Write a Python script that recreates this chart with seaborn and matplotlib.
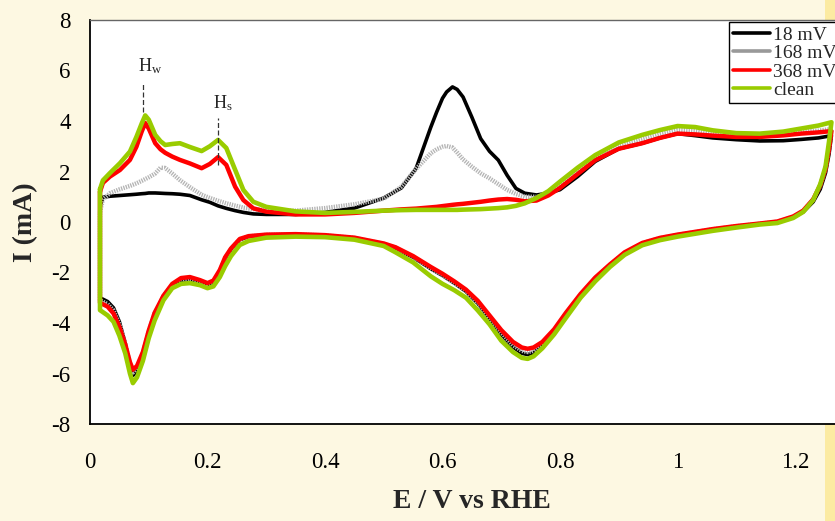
import numpy as np
import pandas as pd
import matplotlib
matplotlib.use("Agg")
import matplotlib.pyplot as plt
from matplotlib.lines import Line2D
from matplotlib.patches import Rectangle
import seaborn as sns

# ---------------- data ----------------
series_names = ["18 mV", "168 mV", "368 mV", "clean"]

E_anodic = [0.017, 0.022, 0.034, 0.051, 0.068, 0.079, 0.088, 0.094, 0.100, 0.111,
            0.120, 0.128, 0.140, 0.153, 0.170, 0.190, 0.204, 0.218, 0.232, 0.247,
            0.261, 0.278, 0.300, 0.350, 0.400, 0.450, 0.500, 0.530, 0.555, 0.580,
            0.590, 0.600, 0.607, 0.617, 0.625, 0.635, 0.650, 0.665, 0.680, 0.695,
            0.710, 0.725, 0.740, 0.760, 0.780, 0.800, 0.830, 0.860, 0.900, 0.940,
            0.970, 1.000, 1.030, 1.060, 1.100, 1.140, 1.180, 1.210, 1.240, 1.262]

I_anodic_18 = [0.60, 0.98, 1.02, 1.05, 1.08, 1.10, 1.12, 1.13, 1.15, 1.15,
               1.14, 1.13, 1.12, 1.10, 1.05, 0.88, 0.78, 0.64, 0.54, 0.45,
               0.38, 0.32, 0.30, 0.30, 0.38, 0.55, 0.95, 1.35, 2.12, 3.75,
               4.35, 4.90, 5.15, 5.35, 5.25, 4.95, 4.15, 3.30, 2.80, 2.45,
               1.85, 1.33, 1.14, 1.07, 1.14, 1.28, 1.80, 2.40, 2.90, 3.12,
               3.33, 3.50, 3.42, 3.33, 3.26, 3.21, 3.22, 3.27, 3.33, 3.42]

I_anodic_168 = [0.40, 0.90, 1.14, 1.30, 1.43, 1.53, 1.63, 1.70, 1.77, 1.92,
                2.15, 2.14, 1.92, 1.66, 1.38, 1.08, 0.95, 0.84, 0.74, 0.65,
                0.57, 0.51, 0.48, 0.45, 0.55, 0.70, 0.92, 1.40, 2.10, 2.72,
                2.88, 2.98, 3.01, 2.95, 2.75, 2.48, 2.19, 1.93, 1.73, 1.50,
                1.27, 1.11, 1.00, 1.00, 1.10, 1.45, 2.00, 2.55, 3.05, 3.30,
                3.50, 3.65, 3.62, 3.52, 3.45, 3.44, 3.50, 3.58, 3.62, 3.68]

I_anodic_368 = [1.20, 1.55, 1.80, 2.06, 2.46, 2.98, 3.58, 3.92, 3.70, 3.12,
                2.88, 2.74, 2.59, 2.46, 2.32, 2.13, 2.30, 2.57, 2.26, 1.40,
                0.87, 0.54, 0.41, 0.30, 0.30, 0.36, 0.45, 0.50, 0.53, 0.58,
                0.60, 0.63, 0.65, 0.68, 0.70, 0.72, 0.76, 0.80, 0.85, 0.89,
                0.91, 0.88, 0.82, 0.85, 1.05, 1.35, 1.90, 2.45, 2.90, 3.12,
                3.33, 3.50, 3.47, 3.42, 3.37, 3.37, 3.43, 3.50, 3.55, 3.60]

I_anodic_clean = [1.30, 1.65, 1.94, 2.33, 2.79, 3.37, 3.90, 4.22, 4.05, 3.45,
                  3.20, 3.05, 3.09, 3.12, 2.97, 2.81, 3.00, 3.25, 2.93, 2.07,
                  1.27, 0.80, 0.60, 0.42, 0.36, 0.40, 0.45, 0.47, 0.48, 0.48,
                  0.48, 0.48, 0.48, 0.48, 0.48, 0.49, 0.50, 0.51, 0.53, 0.55,
                  0.58, 0.64, 0.74, 0.95, 1.22, 1.60, 2.15, 2.65, 3.15, 3.45,
                  3.64, 3.80, 3.76, 3.63, 3.52, 3.50, 3.58, 3.70, 3.82, 3.95]

E_cathodic = [1.262, 1.258, 1.252, 1.243, 1.231, 1.214, 1.197, 1.170, 1.140, 1.100,
              1.060, 1.000, 0.970, 0.940, 0.910, 0.885, 0.860, 0.835, 0.810, 0.790,
              0.770, 0.755, 0.745, 0.735, 0.720, 0.700, 0.680, 0.660, 0.640, 0.620,
              0.600, 0.580, 0.550, 0.520, 0.500, 0.450, 0.400, 0.350, 0.300, 0.270,
              0.255, 0.240, 0.230, 0.221, 0.210, 0.200, 0.187, 0.170, 0.155, 0.140,
              0.125, 0.110, 0.100, 0.090, 0.080, 0.073, 0.068, 0.060, 0.050, 0.040,
              0.030, 0.017]

I_cathodic_18 = [3.42, 2.70, 1.95, 1.30, 0.80, 0.40, 0.18, 0.00, -0.08, -0.18,
                 -0.30, -0.52, -0.66, -0.86, -1.24, -1.72, -2.26, -2.92, -3.70, -4.38,
                 -4.92, -5.18, -5.25, -5.20, -4.95, -4.45, -3.82, -3.22, -2.75, -2.42,
                 -2.12, -1.85, -1.40, -1.04, -0.88, -0.64, -0.54, -0.50, -0.52, -0.58,
                 -0.70, -1.08, -1.45, -1.98, -2.42, -2.52, -2.40, -2.28, -2.30, -2.50,
                 -2.95, -3.62, -4.35, -5.25, -5.90, -6.08, -5.70, -4.80, -3.95, -3.40,
                 -3.15, -3.00]

I_cathodic_168 = [3.68, 2.95, 2.12, 1.45, 0.88, 0.44, 0.20, 0.01, -0.07, -0.17,
                  -0.29, -0.51, -0.64, -0.84, -1.22, -1.70, -2.23, -2.88, -3.65, -4.32,
                  -4.85, -5.10, -5.15, -5.10, -4.88, -4.38, -3.78, -3.18, -2.72, -2.40,
                  -2.10, -1.82, -1.38, -1.02, -0.87, -0.63, -0.53, -0.49, -0.51, -0.57,
                  -0.69, -1.07, -1.43, -1.95, -2.38, -2.48, -2.36, -2.24, -2.27, -2.48,
                  -2.94, -3.61, -4.32, -5.20, -5.80, -5.96, -5.62, -4.82, -4.05, -3.50,
                  -3.25, -3.10]

I_cathodic_368 = [3.60, 2.90, 2.10, 1.45, 0.90, 0.45, 0.22, 0.02, -0.06, -0.16,
                  -0.28, -0.50, -0.63, -0.83, -1.20, -1.68, -2.20, -2.85, -3.60, -4.25,
                  -4.75, -4.97, -5.02, -4.97, -4.75, -4.28, -3.70, -3.12, -2.68, -2.35,
                  -2.05, -1.78, -1.35, -1.00, -0.85, -0.62, -0.52, -0.48, -0.50, -0.56,
                  -0.67, -1.05, -1.40, -1.90, -2.32, -2.42, -2.30, -2.18, -2.22, -2.45,
                  -2.92, -3.60, -4.30, -5.15, -5.70, -5.85, -5.55, -4.85, -4.15, -3.62,
                  -3.35, -3.20]

I_cathodic_clean = [3.95, 3.20, 2.20, 1.50, 0.87, 0.40, 0.16, -0.04, -0.10, -0.22,
                    -0.35, -0.58, -0.72, -0.92, -1.30, -1.78, -2.35, -3.00, -3.80, -4.45,
                    -5.00, -5.32, -5.42, -5.38, -5.15, -4.70, -4.05, -3.50, -3.00, -2.70,
                    -2.45, -2.15, -1.60, -1.20, -0.95, -0.70, -0.60, -0.58, -0.62, -0.75,
                    -0.91, -1.35, -1.75, -2.18, -2.55, -2.62, -2.50, -2.42, -2.45, -2.62,
                    -3.10, -3.90, -4.60, -5.50, -6.15, -6.38, -6.00, -5.20, -4.50, -3.95,
                    -3.70, -3.49]

x_ticks = [0, 0.2, 0.4, 0.6, 0.8, 1.0, 1.2]
x_tick_labels = ["0", "0.2", "0.4", "0.6", "0.8", "1", "1.2"]
y_ticks = [-8, -6, -4, -2, 0, 2, 4, 6, 8]
y_tick_labels = ["-8", "-6", "-4", "-2", "0", "2", "4", "6", "8"]

peak_labels = [r"H$_\mathregular{w}$", r"H$_\mathregular{s}$"]
peak_E = [0.091, 0.218]

# ---------------- styling ----------------
sns.set_style("white")
plt.rcParams["font.family"] = ["Liberation Serif", "DejaVu Serif"]
plt.rcParams["axes.unicode_minus"] = False
plt.rcParams["mathtext.fontset"] = "stix"

W, H, DPI = 835, 521, 100
fig = plt.figure(figsize=(W / DPI, H / DPI), dpi=DPI, facecolor="#FDF8E2")
fig.patches.append(Rectangle((825 / W, 0), 10 / W, 1, transform=fig.transFigure,
                             facecolor="#FCEBA2", edgecolor="none", zorder=-5))

ax_left, ax_top, ax_bottom = 90, 20, 424
x_max = 1.3
ax_right = 90 + 587.5 * x_max
ax = fig.add_axes([ax_left / W, 1 - ax_bottom / H, (ax_right - ax_left) / W,
                   (ax_bottom - ax_top) / H])
ax.set_facecolor("white")

colors = {"18 mV": "#000000", "168 mV": "#B4B4B4", "368 mV": "#FF0000", "clean": "#99CC00"}
widths = {"18 mV": 2.6, "168 mV": 3.2, "368 mV": 3.2, "clean": 3.3}

anodic = {"18 mV": I_anodic_18, "168 mV": I_anodic_168,
          "368 mV": I_anodic_368, "clean": I_anodic_clean}
cathodic = {"18 mV": I_cathodic_18, "168 mV": I_cathodic_168,
            "368 mV": I_cathodic_368, "clean": I_cathodic_clean}

for name in series_names:
    E = E_anodic + E_cathodic + [E_anodic[0]]
    I = anodic[name] + cathodic[name] + [anodic[name][0]]
    df = pd.DataFrame({"E": E, "I": I})
    kw = dict(color=colors[name], linewidth=widths[name], ax=ax, sort=False,
              estimator=None, legend=False)
    if name == "168 mV":
        kw["linestyle"] = (0, (0.3, 0.25))
        kw["dash_capstyle"] = "butt"
        kw["dash_joinstyle"] = "round"
    else:
        kw["solid_joinstyle"] = "round"
        kw["solid_capstyle"] = "round"
    sns.lineplot(data=df, x="E", y="I", **kw)

ax.set_xlim(0, x_max)
ax.set_ylim(-8, 8)
ax.set_xticks(x_ticks)
ax.set_xticklabels(x_tick_labels)
ax.set_yticks(y_ticks)
ax.set_yticklabels(y_tick_labels)
ax.tick_params(axis="both", direction="in", length=7, width=1, color="#555555",
               labelsize=16.5, labelcolor="black")
ax.tick_params(axis="x", pad=20)
ax.tick_params(axis="y", pad=14)

for s in ["left", "bottom"]:
    ax.spines[s].set_color("black")
    ax.spines[s].set_linewidth(1.3)
ax.spines["top"].set_color("#666666")
ax.spines["top"].set_linewidth(1.0)
ax.spines["right"].set_visible(False)

ax.set_xlabel("E / V vs RHE", fontsize=20, fontweight="bold")
ax.set_ylabel("I (mA)", fontsize=20, fontweight="bold")
ax.xaxis.set_label_coords(0.5, -0.16)
ax.yaxis.set_label_coords(-0.068, 0.5)

# peak annotations
ax.vlines(peak_E[0], 4.36, 5.54, colors="#333333", linestyles=(0, (4, 2)), linewidth=0.9)
ax.vlines(peak_E[1], 2.26, 4.12, colors="#333333", linestyles=(0, (4, 2)), linewidth=0.9)
ax.text(0.082, 5.94, peak_labels[0], fontsize=13, ha="left", va="baseline")
ax.text(0.209, 4.51, peak_labels[1], fontsize=13, ha="left", va="baseline")

handles = [Line2D([], [], color="#000000", lw=2.6),
           Line2D([], [], color="#999999", lw=2.6),
           Line2D([], [], color="#FF0000", lw=2.6),
           Line2D([], [], color="#99CC00", lw=2.6)]
leg = fig.legend(handles, series_names, loc="upper left",
                 bbox_to_anchor=(729 / W, 1 - 22 / H), bbox_transform=fig.transFigure,
                 fontsize=14, frameon=True, fancybox=False, shadow=False,
                 borderpad=0.2, labelspacing=0.05, handlelength=1.9,
                 handletextpad=0.15, borderaxespad=0)
leg.get_frame().set_edgecolor("black")
leg.get_frame().set_linewidth(1.0)
leg.get_frame().set_facecolor("white")
leg.get_frame().set_alpha(1)

fig.savefig("out.png", dpi=DPI, facecolor=fig.get_facecolor())
